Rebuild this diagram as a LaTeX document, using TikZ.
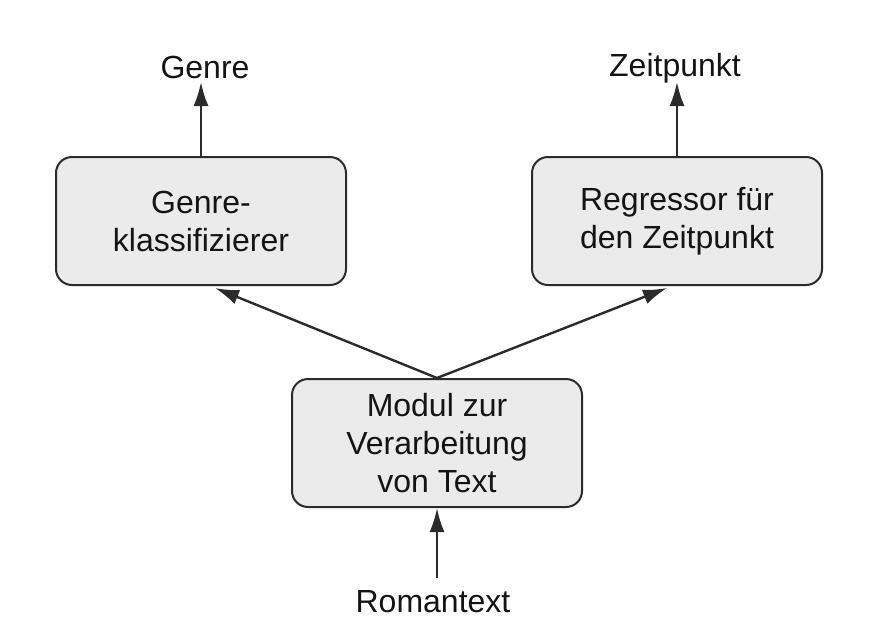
\documentclass[tikz,border=0pt]{standalone}
\usepackage{fontspec}
\setmainfont{Liberation Sans}
\usetikzlibrary{arrows.meta}
\definecolor{boxfill}{HTML}{EBEBEB}
\definecolor{ink}{HTML}{2B2B2B}
\begin{document}
\begin{tikzpicture}[x=1pt,y=-1pt,
  blk/.style={draw=ink,line width=2pt,fill=boxfill,rounded corners=16pt,
    minimum width=290pt,minimum height=128pt,align=center,inner sep=0pt,
    font=\fontsize{32}{38}\selectfont,text=black!92},
  lbl/.style={font=\fontsize{32}{38}\selectfont,text=black!92,inner sep=0pt},
  conn/.style={draw=ink,line width=2.4pt,-{Latex[length=24pt,width=15pt]}}]
\useasboundingbox (0,0) rectangle (881,633);
\node[blk] (gk) at (201,221) {Genre-\\klassifizierer};
\node[blk] (rz) at (677,221) {Regressor für\\den Zeitpunkt};
\node[blk] (mv) at (437,443) {Modul zur\\Verarbeitung\\von Text};
\node[lbl] (genre) at (205,67) {Genre};
\node[lbl] (zeit) at (675,68) {Zeitpunkt};
\node[lbl] (rom) at (433,602) {Romantext};
\coordinate (gkin) at (215,288);
\coordinate (rzin) at (667,288);
\draw[conn] (gk.north) -- (gk.north |- 0,82);
\draw[conn] (rz.north) -- (rz.north |- 0,82);
\draw[conn] (437,578) -- (mv.south);
\draw[conn] (mv.north) -- (gkin);
\draw[conn] (mv.north) -- (rzin);
\end{tikzpicture}
\end{document}
